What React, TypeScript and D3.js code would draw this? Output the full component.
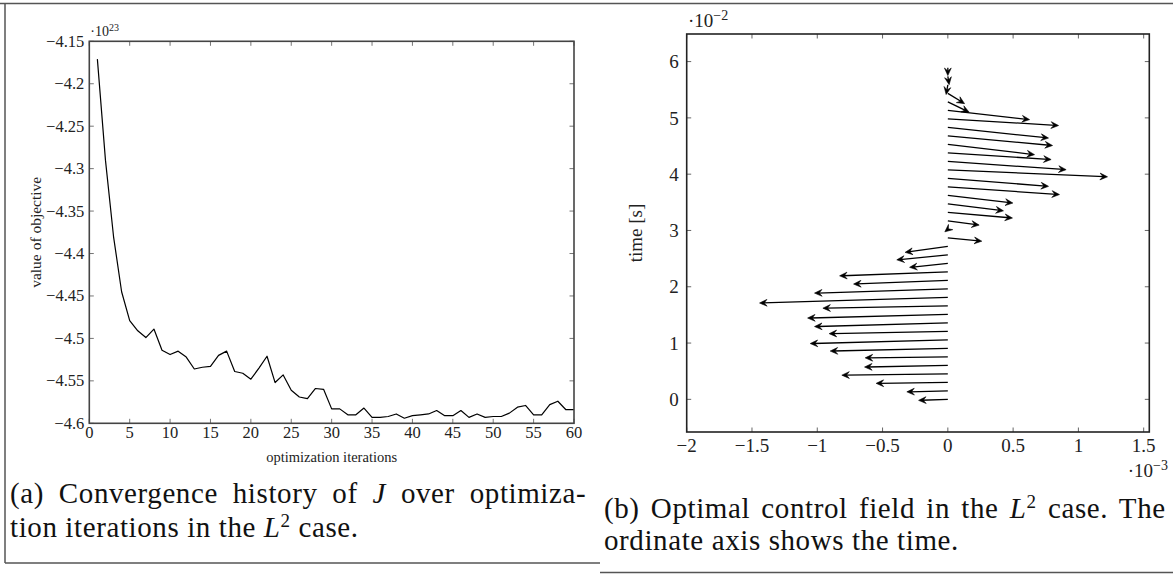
import React from 'react';
import * as d3 from 'd3';

// ---------- Left chart data (value of objective, ×1e23) ----------
const objectiveValues = [
  -4.171, -4.29, -4.38, -4.445, -4.479, -4.491, -4.499, -4.489, -4.514, -4.519,
  -4.515, -4.522, -4.536, -4.534, -4.533, -4.52, -4.515, -4.539, -4.541, -4.548,
  -4.535, -4.521, -4.552, -4.543, -4.561, -4.569, -4.571, -4.559, -4.56, -4.583,
  -4.583, -4.59, -4.59, -4.582, -4.593, -4.593, -4.592, -4.589, -4.594, -4.591,
  -4.59, -4.589, -4.585, -4.591, -4.591, -4.585, -4.593, -4.589, -4.593, -4.592,
  -4.592, -4.588, -4.581, -4.579, -4.59, -4.59, -4.578, -4.574, -4.584, -4.584,
];
const leftXTicks = [0, 5, 10, 15, 20, 25, 30, 35, 40, 45, 50, 55, 60];
const leftYTicks = [-4.15, -4.2, -4.25, -4.3, -4.35, -4.4, -4.45, -4.5, -4.55, -4.6];

// ---------- Right chart data (quiver: time ×1e-2 s, u ×1e-3, v ×1e-2) ----------
const times = [
  0, 0.151, 0.302, 0.453, 0.604, 0.755, 0.906, 1.057, 1.208, 1.359,
  1.51, 1.661, 1.812, 1.963, 2.114, 2.265, 2.416, 2.567, 2.718, 2.869,
  3.02, 3.171, 3.322, 3.473, 3.624, 3.775, 3.926, 4.077, 4.228, 4.379,
  4.53, 4.681, 4.832, 4.983, 5.134, 5.285, 5.436, 5.587, 5.738, 5.889,
];
const controlU = [
  -0.224, -0.314, -0.549, -0.812, -0.638, -0.633, -0.901, -1.054, -0.909, -1.021,
  -1.074, -0.957, -1.442, -1.021, -0.722, -0.829, -0.293, -0.391, -0.327, 0.26,
  -0.023, 0.24, 0.495, 0.426, 0.498, 0.855, 0.771, 1.223, 0.906, 0.791,
  0.664, 0.802, 0.771, 0.848, 0.626, 0.163, 0.128, -0.013, 0.01, 0,
];
const controlV = [
  -0.018, -0.018, -0.018, -0.023, -0.03, -0.018, -0.048, -0.066, -0.041, -0.066,
  -0.066, -0.041, -0.101, -0.076, -0.066, -0.071, -0.071, -0.089, -0.107, -0.059,
  -0.044, -0.076, -0.101, -0.124, -0.137, -0.137, -0.142, -0.124, -0.148, -0.119,
  -0.183, -0.172, -0.19, -0.119, -0.165, -0.183, -0.183, -0.172, -0.148, -0.137,
];
const rightXTicks = [-2, -1.5, -1, -0.5, 0, 0.5, 1, 1.5];
const rightYTicks = [0, 1, 2, 3, 4, 5, 6];

const FONT = '"Liberation Serif", "Times New Roman", serif';
const fmt = (v: number) => (v < 0 ? '\u2212' + String(Math.abs(v)) : String(v));

export default function App() {
  // Left chart scales
  const lx = d3.scaleLinear().domain([0, 60]).range([89.3, 574]);
  const ly = d3.scaleLinear().domain([-4.6, -4.15]).range([423.3, 41.3]);
  const line = d3
    .line<number>()
    .x((_, i) => lx(i + 1))
    .y((d) => ly(d));

  // Right chart scales
  const rx = d3.scaleLinear().domain([-2, 1.543]).range([686.7, 1149.3]);
  const ry = d3.scaleLinear().domain([-0.58, 6.49]).range([432, 34]);

  const tickLen = 4.5;
  const L = [lx.range()[0], lx.range()[1]];
  const T = [ly.range()[1], ly.range()[0]];
  const RL = [rx.range()[0], rx.range()[1]];
  const RT = [ry.range()[1], ry.range()[0]];

  const arrows = times.map((t, i) => {
    const x0 = rx(0);
    const y0 = ry(t);
    const x1 = rx(controlU[i]);
    const y1 = ry(t + controlV[i]);
    const dx = x1 - x0;
    const dy = y1 - y0;
    const len = Math.hypot(dx, dy) || 1;
    const ux = dx / len;
    const uy = dy / len;
    const px = -uy;
    const py = ux;
    const HL = 7.5;
    const HW = 3.4;
    const bx = x1 - HL * ux;
    const by = y1 - HL * uy;
    const nx = x1 - HL * 0.62 * ux;
    const ny = y1 - HL * 0.62 * uy;
    const head = `M${x1},${y1}L${bx + HW * px},${by + HW * py}L${nx},${ny}L${bx - HW * px},${by - HW * py}Z`;
    const endX = x1 - 3 * ux;
    const endY = y1 - 3 * uy;
    return { x0, y0, endX, endY, head, key: i };
  });

  return (
    <svg
      width={1173}
      height={574}
      style={{ position: 'absolute', left: 0, top: 0, background: '#fff' }}
      fontFamily={FONT}
    >
      <rect x={0} y={0} width={1173} height={574} fill="#fff" />
      {/* Frame */}
      <g stroke="#555" strokeWidth={1.5} fill="none">
        <line x1={0} y1={3.5} x2={1173} y2={3.5} />
        <line x1={5} y1={3.5} x2={5} y2={563} />
        <line x1={5} y1={563} x2={600} y2={563} />
        <line x1={600} y1={572.5} x2={1173} y2={572.5} />
      </g>

      {/* ---------- Left chart ---------- */}
      <g>
        <g stroke="#666" strokeWidth={0.9}>
          {leftXTicks.map((v) => (
            <g key={'lxt' + v}>
              <line x1={lx(v)} x2={lx(v)} y1={T[1]} y2={T[1] - tickLen} />
              <line x1={lx(v)} x2={lx(v)} y1={T[0]} y2={T[0] + tickLen} />
            </g>
          ))}
          {leftYTicks.map((v) => (
            <g key={'lyt' + v}>
              <line x1={L[0]} x2={L[0] + tickLen} y1={ly(v)} y2={ly(v)} />
              <line x1={L[1]} x2={L[1] - tickLen} y1={ly(v)} y2={ly(v)} />
            </g>
          ))}
        </g>
        <path d={line(objectiveValues) || ''} fill="none" stroke="#000" strokeWidth={1.2} strokeLinejoin="round" />
        <rect x={L[0]} y={T[0]} width={L[1] - L[0]} height={T[1] - T[0]} fill="none" stroke="#444" strokeWidth={1.6} />
        <g fontSize={16.5} fill="#222">
          {leftYTicks.map((v) => (
            <text key={'lyl' + v} x={L[0] - 5} y={ly(v)} dy="0.33em" textAnchor="end">
              {fmt(v)}
            </text>
          ))}
          {leftXTicks.map((v) => (
            <text key={'lxl' + v} x={lx(v)} y={T[1] + 15} textAnchor="middle">
              {fmt(v)}
            </text>
          ))}
        </g>
        <text x={L[0] + 1} y={35.5} fontSize={14} fill="#222">
          ·10<tspan dy={-5} fontSize={10}>23</tspan>
        </text>
        <text x={(L[0] + L[1]) / 2} y={462} fontSize={14.5} textAnchor="middle" fill="#222">
          optimization iterations
        </text>
        <text
          transform={`translate(41,${(T[0] + T[1]) / 2}) rotate(-90)`}
          fontSize={15.5}
          textAnchor="middle"
          fill="#222"
        >
          value of objective
        </text>
      </g>

      {/* ---------- Right chart ---------- */}
      <g>
        <g stroke="#555" strokeWidth={0.9}>
          {rightXTicks.map((v) => (
            <g key={'rxt' + v}>
              <line x1={rx(v)} x2={rx(v)} y1={RT[1]} y2={RT[1] - tickLen} />
              <line x1={rx(v)} x2={rx(v)} y1={RT[0]} y2={RT[0] + tickLen} />
            </g>
          ))}
          {rightYTicks.map((v) => (
            <g key={'ryt' + v}>
              <line x1={RL[0]} x2={RL[0] + tickLen} y1={ry(v)} y2={ry(v)} />
              <line x1={RL[1]} x2={RL[1] - tickLen} y1={ry(v)} y2={ry(v)} />
            </g>
          ))}
        </g>
        <g>
          {arrows.map((a) => (
            <g key={'ar' + a.key}>
              <line x1={a.x0} y1={a.y0} x2={a.endX} y2={a.endY} stroke="#000" strokeWidth={1.3} />
              <path d={a.head} fill="#000" stroke="#000" strokeWidth={0.6} strokeLinejoin="miter" />
            </g>
          ))}
        </g>
        <rect x={RL[0]} y={RT[0]} width={RL[1] - RL[0]} height={RT[1] - RT[0]} fill="none" stroke="#222" strokeWidth={1.6} />
        <g fontSize={19} fill="#222">
          {rightYTicks.map((v) => (
            <text key={'ryl' + v} x={RL[0] - 8} y={ry(v)} dy="0.35em" textAnchor="end">
              {fmt(v)}
            </text>
          ))}
          {rightXTicks.map((v) => (
            <text key={'rxl' + v} x={rx(v)} y={RT[1] + 20} textAnchor="middle">
              {fmt(v)}
            </text>
          ))}
        </g>
        <text x={688} y={27} fontSize={19} fill="#222">
          ·10<tspan dy={-7} fontSize={14}>−2</tspan>
        </text>
        <text x={1168} y={477} fontSize={19} fill="#222" textAnchor="end">
          ·10<tspan dy={-7} fontSize={14}>−3</tspan>
        </text>
        <text
          transform={`translate(642,${(RT[0] + RT[1]) / 2}) rotate(-90)`}
          fontSize={19}
          textAnchor="middle"
          fill="#222"
        >
          time [s]
        </text>
      </g>

      {/* ---------- Captions ---------- */}
      <g fontSize={29} fill="#111" letterSpacing={0.6}>
        <text x={10} y={503} wordSpacing={7}>
          (a) Convergence history of <tspan fontStyle="italic">J</tspan> over optimiza-
        </text>
        <text x={10} y={537}>
          tion iterations in the <tspan fontStyle="italic">L</tspan>
          <tspan dy={-10} fontSize={19}>2</tspan>
          <tspan dy={10}> case.</tspan>
        </text>
        <text x={604} y={518} wordSpacing={3.4}>
          (b) Optimal control field in the <tspan fontStyle="italic">L</tspan>
          <tspan dy={-10} fontSize={19}>2</tspan>
          <tspan dy={10}> case. The</tspan>
        </text>
        <text x={604} y={550}>
          ordinate axis shows the time.
        </text>
      </g>
    </svg>
  );
}
